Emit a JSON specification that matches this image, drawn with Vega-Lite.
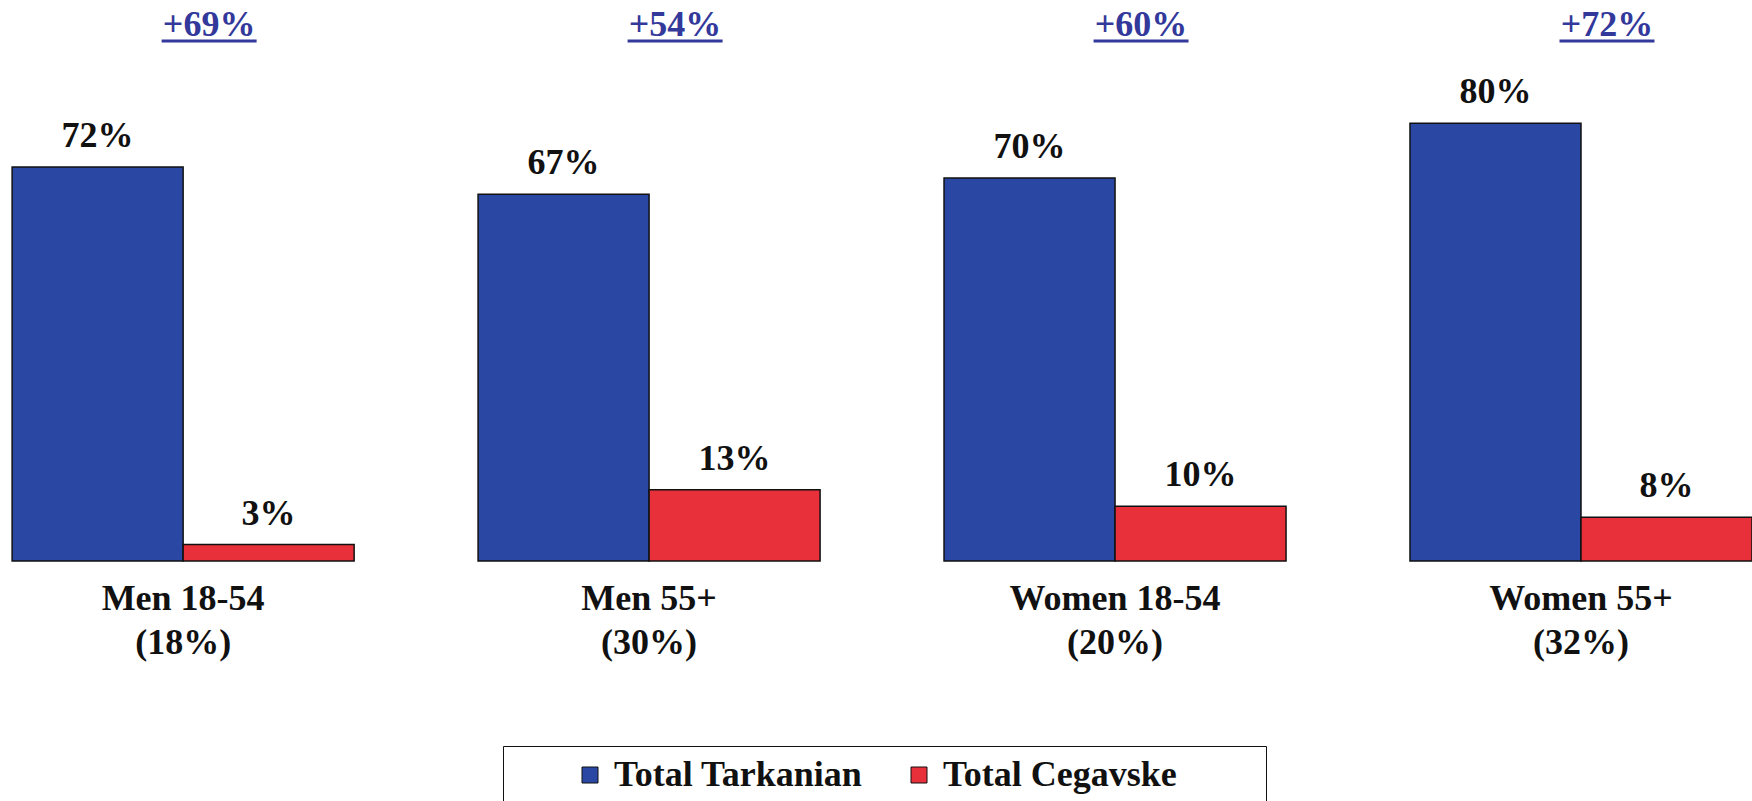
{
  "$schema": "https://vega.github.io/schema/vega-lite/v6.json",
  "width": 1752,
  "height": 561,
  "autosize": {"type": "none"},
  "padding": {"left": 0, "top": 0, "right": 0, "bottom": 240},
  "background": "white",
  "config": {"view": {"stroke": null}, "font": "'Liberation Serif', 'Times New Roman', serif"},
  "datasets": {
    "bars": [
      {"group": "Men 18-54 (18%)", "series": "Total Tarkanian", "value": 72, "label": "72%"},
      {"group": "Men 18-54 (18%)", "series": "Total Cegavske", "value": 3, "label": "3%"},
      {"group": "Men 55+ (30%)", "series": "Total Tarkanian", "value": 67, "label": "67%"},
      {"group": "Men 55+ (30%)", "series": "Total Cegavske", "value": 13, "label": "13%"},
      {"group": "Women 18-54 (20%)", "series": "Total Tarkanian", "value": 70, "label": "70%"},
      {"group": "Women 18-54 (20%)", "series": "Total Cegavske", "value": 10, "label": "10%"},
      {"group": "Women 55+ (32%)", "series": "Total Tarkanian", "value": 80, "label": "80%"},
      {"group": "Women 55+ (32%)", "series": "Total Cegavske", "value": 8, "label": "8%"}
    ],
    "gaps": [
      {"group": "Men 18-54 (18%)", "gap": "+69%"},
      {"group": "Men 55+ (30%)", "gap": "+54%"},
      {"group": "Women 18-54 (20%)", "gap": "+60%"},
      {"group": "Women 55+ (32%)", "gap": "+72%"}
    ]
  },
  "layer": [
    {
      "data": {"name": "bars"},
      "mark": {"type": "bar", "stroke": "#111111", "strokeWidth": 1.5},
      "encoding": {
        "x": {
          "field": "group", "type": "nominal",
          "scale": {"domain": ["Men 18-54 (18%)", "Men 55+ (30%)", "Women 18-54 (20%)", "Women 55+ (32%)"], "paddingInner": 0.266, "paddingOuter": 0.013, "align": 1},
          "axis": {
            "title": null, "domain": false, "ticks": false,
            "labelAngle": 0, "labelFont": "'Liberation Serif', 'Times New Roman', serif", "labelFontWeight": "bold", "labelFontSize": 36,
            "labelColor": "#111111", "labelPadding": 20, "labelLineHeight": 44, "labelLimit": 0,
            "labelExpr": "[slice(datum.label, 0, indexof(datum.label, ' (')), slice(datum.label, indexof(datum.label, ' (') + 1)]"
          }
        },
        "xOffset": {
          "field": "series", "type": "nominal",
          "scale": {"domain": ["Total Tarkanian", "Total Cegavske"], "paddingInner": 0, "paddingOuter": 0}
        },
        "y": {"field": "value", "type": "quantitative", "scale": {"domain": [0, 102.5], "nice": false}, "axis": null},
        "color": {
          "field": "series", "type": "nominal",
          "scale": {"domain": ["Total Tarkanian", "Total Cegavske"], "range": ["#2a48a3", "#e8303a"]},
          "legend": {
            "orient": "none", "legendX": 503, "legendY": 746, "direction": "horizontal",
            "title": "\u00a0", "titleOrient": "left", "titlePadding": 58, "titleFontSize": 10,
            "strokeColor": "#111111", "fillColor": "white", "padding": 11,
            "symbolType": "square", "symbolSize": 256, "symbolStrokeColor": "#111111", "symbolStrokeWidth": 1,
            "labelFont": "'Liberation Serif', 'Times New Roman', serif", "labelFontWeight": "bold", "labelFontSize": 36, "labelColor": "#111111",
            "labelOffset": 6, "labelLimit": 0, "columnPadding": 38,
            "labelExpr": "datum.label == 'Total Cegavske' ? datum.label + '\u2800\u2800\u2800' : datum.label"
          }
        }
      }
    },
    {
      "data": {"name": "bars"},
      "mark": {"type": "text", "baseline": "bottom", "dy": -12, "font": "'Liberation Serif', 'Times New Roman', serif", "fontWeight": "bold", "fontSize": 36, "color": "#111111"},
      "encoding": {
        "x": {"field": "group", "type": "nominal"},
        "xOffset": {"field": "series", "type": "nominal"},
        "y": {"field": "value", "type": "quantitative"},
        "text": {"field": "label"}
      }
    },
    {
      "data": {"name": "gaps"},
      "mark": {"type": "text", "baseline": "middle", "xOffset": 26, "font": "'Liberation Serif', 'Times New Roman', serif", "fontWeight": "bold", "fontSize": 36, "color": "#33399b"},
      "encoding": {
        "x": {"field": "group", "type": "nominal"},
        "y": {"datum": 98, "type": "quantitative"},
        "text": {"field": "gap"}
      }
    },
    {
      "data": {"name": "gaps"},
      "mark": {"type": "tick", "orient": "horizontal", "size": 95, "thickness": 3, "xOffset": 26, "color": "#33399b", "opacity": 1},
      "encoding": {
        "x": {"field": "group", "type": "nominal"},
        "y": {"datum": 95, "type": "quantitative"}
      }
    }
  ]
}
